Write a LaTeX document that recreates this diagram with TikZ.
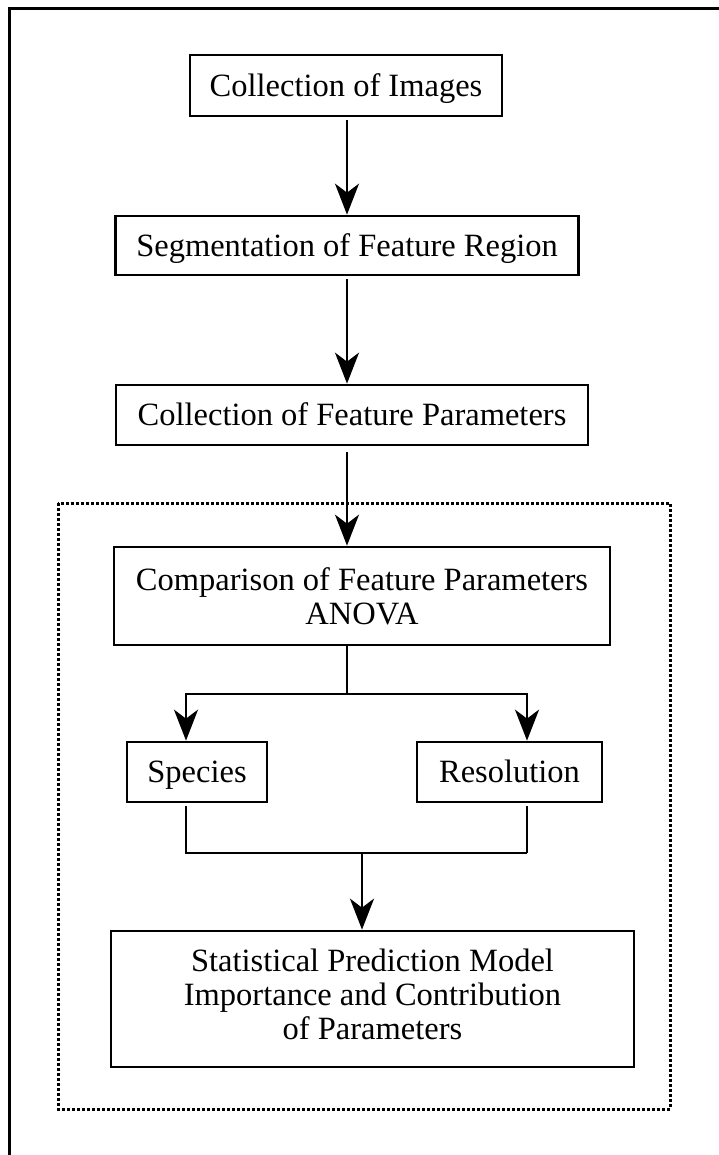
\documentclass[tikz,border=0pt]{standalone}
\usepackage{fontspec}
\setmainfont{Liberation Serif}
\usetikzlibrary{arrows.meta}
\tikzset{
  stepbox/.style={draw, rectangle, line width=2.7pt, align=center, inner sep=0pt, font=\fontsize{32.5}{34}\selectfont},
  onebox/.style={stepbox, text height=21.5pt, text depth=0pt, minimum height=60pt},
  link/.style={line width=2.4pt},
  arr/.style={link, -{Stealth[length=31pt,width=24pt,inset=9pt]}},
  frame/.style={line width=3pt},
  group/.style={line width=3pt, dash pattern=on 3pt off 2pt}
}

\begin{document}
\begin{tikzpicture}[x=1pt,y=-1pt]
			\useasboundingbox (0,0) rectangle (719,1155);
			\draw[frame] (9.5,1155) -- (9.5,8.5) -- (719,8.5);
			\draw[group] (58,503) rectangle (670,1109);

			\node[onebox, minimum width=312pt, minimum height=61pt] (imgs) at (346,85.5) {Collection of Images};
			\node[onebox, minimum width=463pt, minimum height=59pt] (seg) at (347,245.5) {Segmentation of Feature Region};
			\node[onebox, minimum width=472pt] (param) at (352,415) {Collection of Feature Parameters};
			\node[stepbox, minimum width=496pt, minimum height=98pt] (anova) at (362,596) {Comparison of Feature Parameters\\ANOVA};
			\node[onebox, minimum width=140pt] (species) at (197,772) {Species};
			\node[onebox, minimum width=185pt] (resol) at (509.5,772) {Resolution};
			\node[stepbox, minimum width=523pt, minimum height=136pt] (stat) at (372.5,999) {Statistical Prediction Model\\Importance and Contribution\\of Parameters\strut};

			\coordinate (fork) at (347,694);
			\coordinate (join) at (362,853);
			\coordinate (laneL) at (186,0);
			\coordinate (laneR) at (527,0);

			\draw[arr, shorten <=3pt] (imgs.south -| fork) -- (seg.north -| fork);
			\draw[arr, shorten <=3pt] (seg.south -| fork) -- (param.north -| fork);
			\draw[arr, shorten <=6pt] (param.south -| fork) -- (anova.north -| fork);
			\draw[link] (anova.south -| fork) -- (fork);
			\draw[arr] (fork) -| (species.north -| laneL);
			\draw[arr] (fork) -| (resol.north -| laneR);
			\draw[link, shorten <=3pt] (species.south -| laneL) -- (laneL |- join) -- (laneR |- join);
			\draw[link, shorten <=3pt] (resol.south -| laneR) -- (laneR |- join);
			\draw[arr] (join) -- (stat.north -| join);
\end{tikzpicture}
\end{document}
